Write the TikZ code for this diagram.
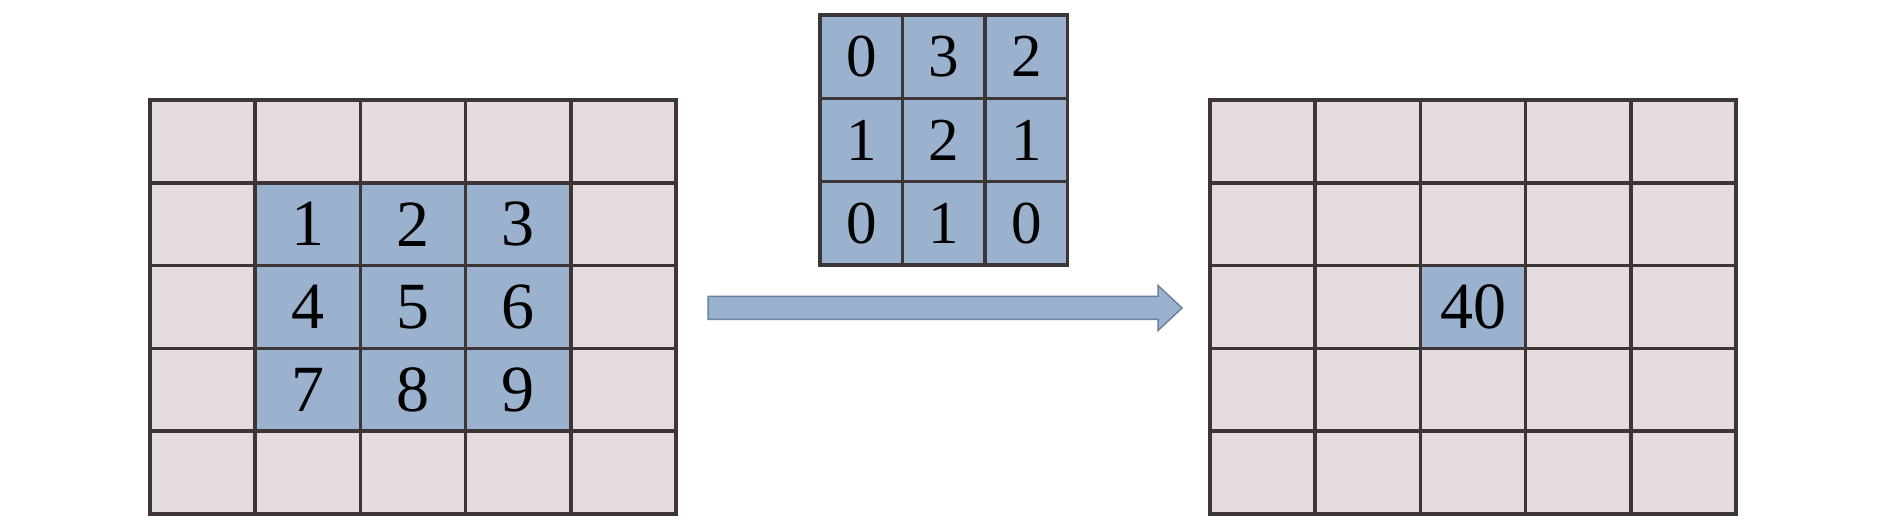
\documentclass[tikz,border=0pt]{standalone}
\usepackage{fontspec}
\setmainfont{Liberation Serif}
\definecolor{cellpink}{RGB}{229,221,221}
\definecolor{cellblue}{RGB}{155,178,206}
\definecolor{gridline}{RGB}{62,54,54}
\definecolor{arrowedge}{RGB}{110,130,160}
\begin{document}
\begin{tikzpicture}[x=1pt,y=-1pt,
  gridlines/.style={draw=gridline,line width=3.5pt,line cap=rect},
  bignum/.style={font=\fontsize{66}{66}\selectfont,inner sep=0pt},
  kernnum/.style={font=\fontsize{61}{61}\selectfont,inner sep=0pt},
  blockarrow/.style={fill=cellblue,draw=arrowedge,line width=1.5pt,line join=miter}]
\useasboundingbox (0,0) rectangle (1890,526);
\fill[white] (0,0) rectangle (1890,526);
% left grid
\fill[cellpink] (150,100) rectangle (676,514);
\fill[cellblue] (256,183) rectangle (571,432);
\foreach \i in {0,...,5}{
  \draw[gridlines] ({150+105.2*\i},100) -- ({150+105.2*\i},514);
  \draw[gridlines] (150,{100+82.8*\i}) -- (676,{100+82.8*\i});
}
% right grid
\fill[cellpink] (1210,100) rectangle (1736,514);
\fill[cellblue] (1420.4,265.6) rectangle (1525.6,348.4);
\foreach \i in {0,...,5}{
  \draw[gridlines] ({1210+105.2*\i},100) -- ({1210+105.2*\i},514);
  \draw[gridlines] (1210,{100+82.8*\i}) -- (1736,{100+82.8*\i});
}
% kernel
\fill[cellblue] (820,15) rectangle (1067.5,265);
\foreach \i in {0,...,3}{
  \draw[gridlines] ({820+82.5*\i},15) -- ({820+82.5*\i},265);
  \draw[gridlines] (820,{15+83.33*\i}) -- (1067.5,{15+83.33*\i});
}
% left numbers
\foreach \r/\c/\v/\nm in {0/0/1/a1,0/1/2/a2,0/2/3/a3,1/0/4/a4,1/1/5/a5,1/2/6/a6,2/0/7/a7,2/1/8/a8,2/2/9/a9}{
  \node[bignum] (\nm) at ({150+105.2*(\c+1.5)},{100+82.8*(\r+1.5)}) {\v};
}
% kernel numbers
\foreach \r/\c/\v/\nm in {0/0/0/k1,0/1/3/k2,0/2/2/k3,1/0/1/k4,1/1/2/k5,1/2/1/k6,2/0/0/k7,2/1/1/k8,2/2/0/k9}{
  \node[kernnum] (\nm) at ({820+82.5*(\c+0.5)},{15+83.33*(\r+0.5)}) {\v};
}
% result
\node[bignum] (res) at (1473,307) {40};
% arrow
\coordinate (as) at (708,308);
\coordinate (ae) at (1182,308);
\draw[blockarrow] ([yshift=-11.5pt]as) -- ([xshift=-24pt,yshift=-11.5pt]ae) -- ([xshift=-24pt,yshift=-22.5pt]ae) -- (ae) -- ([xshift=-24pt,yshift=22.5pt]ae) -- ([xshift=-24pt,yshift=11.5pt]ae) -- ([yshift=11.5pt]as) -- cycle;
\end{tikzpicture}
\end{document}
